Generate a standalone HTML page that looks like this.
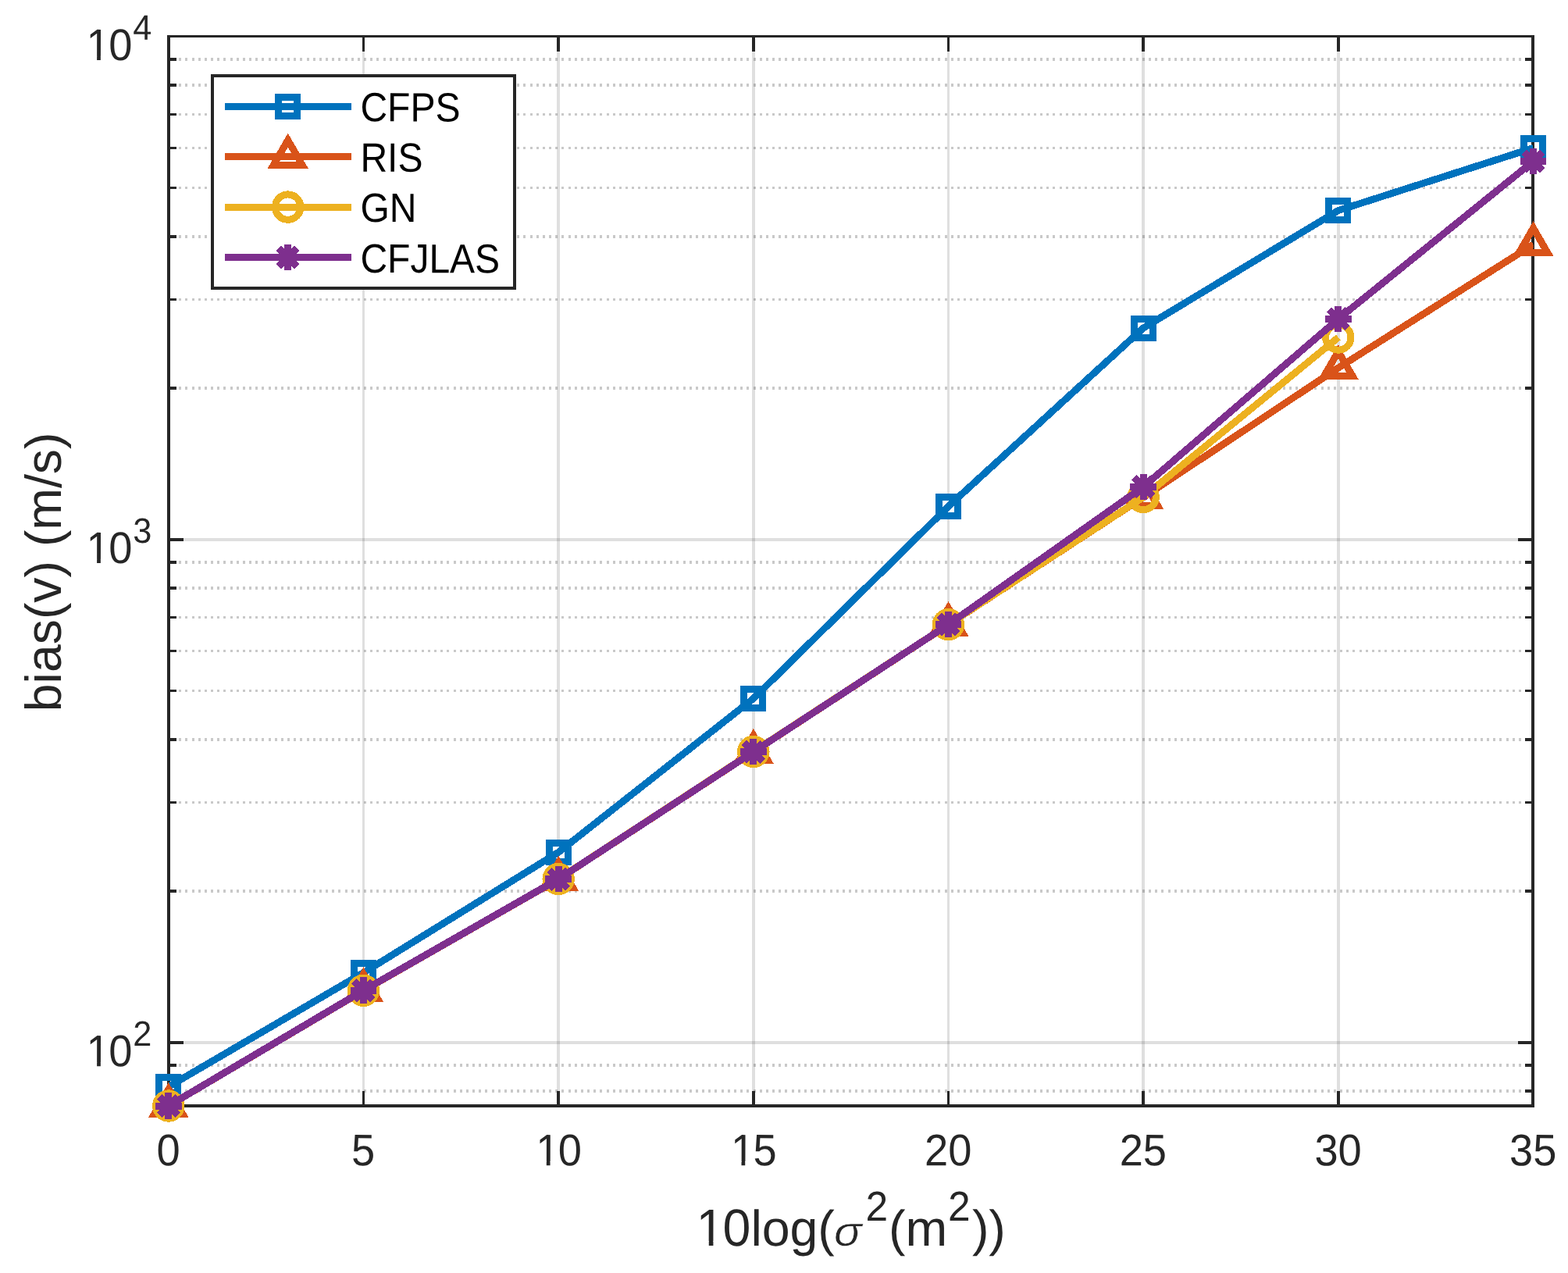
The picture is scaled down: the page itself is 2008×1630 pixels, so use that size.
<!DOCTYPE html>
<html lang="en"><head><meta charset="utf-8"><title>bias(v) versus noise power</title>
<style>html,body{margin:0;padding:0;background:#fff;}body{width:2008px;height:1630px;overflow:hidden;}svg{display:block;}text{font-family:"Liberation Sans",sans-serif;}</style>
</head><body>
<svg width="2008" height="1630" viewBox="0 0 2008 1630">
<rect x="0" y="0" width="2008" height="1630" fill="#fff"/>
<defs><clipPath id="ax"><rect x="215.78" y="46.7" width="1747.76" height="1369.3"/></clipPath></defs>
<g shape-rendering="crispEdges"><line x1="465.46" y1="46.7" x2="465.46" y2="1416" stroke="#262626" stroke-opacity="0.15" stroke-width="3.5"/><line x1="715.14" y1="46.7" x2="715.14" y2="1416" stroke="#262626" stroke-opacity="0.15" stroke-width="3.5"/><line x1="964.82" y1="46.7" x2="964.82" y2="1416" stroke="#262626" stroke-opacity="0.15" stroke-width="3.5"/><line x1="1214.5" y1="46.7" x2="1214.5" y2="1416" stroke="#262626" stroke-opacity="0.15" stroke-width="3.5"/><line x1="1464.18" y1="46.7" x2="1464.18" y2="1416" stroke="#262626" stroke-opacity="0.15" stroke-width="3.5"/><line x1="1713.86" y1="46.7" x2="1713.86" y2="1416" stroke="#262626" stroke-opacity="0.15" stroke-width="3.5"/><line x1="216" y1="1334.76" x2="1963" y2="1334.76" stroke="#262626" stroke-opacity="0.15" stroke-width="3.5"/><line x1="216" y1="690.75" x2="1963" y2="690.75" stroke="#262626" stroke-opacity="0.15" stroke-width="3.5"/><line x1="216" y1="1397.17" x2="1963" y2="1397.17" stroke="#262626" stroke-opacity="0.25" stroke-width="3.5" stroke-dasharray="3 5.17" stroke-dashoffset="-5.03"/><line x1="216" y1="1364.23" x2="1963" y2="1364.23" stroke="#262626" stroke-opacity="0.25" stroke-width="3.5" stroke-dasharray="3 5.17" stroke-dashoffset="-5.03"/><line x1="216" y1="1140.89" x2="1963" y2="1140.89" stroke="#262626" stroke-opacity="0.25" stroke-width="3.5" stroke-dasharray="3 5.17" stroke-dashoffset="-5.03"/><line x1="216" y1="1027.49" x2="1963" y2="1027.49" stroke="#262626" stroke-opacity="0.25" stroke-width="3.5" stroke-dasharray="3 5.17" stroke-dashoffset="-5.03"/><line x1="216" y1="947.03" x2="1963" y2="947.03" stroke="#262626" stroke-opacity="0.25" stroke-width="3.5" stroke-dasharray="3 5.17" stroke-dashoffset="-5.03"/><line x1="216" y1="884.62" x2="1963" y2="884.62" stroke="#262626" stroke-opacity="0.25" stroke-width="3.5" stroke-dasharray="3 5.17" stroke-dashoffset="-5.03"/><line x1="216" y1="833.62" x2="1963" y2="833.62" stroke="#262626" stroke-opacity="0.25" stroke-width="3.5" stroke-dasharray="3 5.17" stroke-dashoffset="-5.03"/><line x1="216" y1="790.51" x2="1963" y2="790.51" stroke="#262626" stroke-opacity="0.25" stroke-width="3.5" stroke-dasharray="3 5.17" stroke-dashoffset="-5.03"/><line x1="216" y1="753.16" x2="1963" y2="753.16" stroke="#262626" stroke-opacity="0.25" stroke-width="3.5" stroke-dasharray="3 5.17" stroke-dashoffset="-5.03"/><line x1="216" y1="720.22" x2="1963" y2="720.22" stroke="#262626" stroke-opacity="0.25" stroke-width="3.5" stroke-dasharray="3 5.17" stroke-dashoffset="-5.03"/><line x1="216" y1="496.88" x2="1963" y2="496.88" stroke="#262626" stroke-opacity="0.25" stroke-width="3.5" stroke-dasharray="3 5.17" stroke-dashoffset="-5.03"/><line x1="216" y1="383.48" x2="1963" y2="383.48" stroke="#262626" stroke-opacity="0.25" stroke-width="3.5" stroke-dasharray="3 5.17" stroke-dashoffset="-5.03"/><line x1="216" y1="303.02" x2="1963" y2="303.02" stroke="#262626" stroke-opacity="0.25" stroke-width="3.5" stroke-dasharray="3 5.17" stroke-dashoffset="-5.03"/><line x1="216" y1="240.61" x2="1963" y2="240.61" stroke="#262626" stroke-opacity="0.25" stroke-width="3.5" stroke-dasharray="3 5.17" stroke-dashoffset="-5.03"/><line x1="216" y1="189.61" x2="1963" y2="189.61" stroke="#262626" stroke-opacity="0.25" stroke-width="3.5" stroke-dasharray="3 5.17" stroke-dashoffset="-5.03"/><line x1="216" y1="146.5" x2="1963" y2="146.5" stroke="#262626" stroke-opacity="0.25" stroke-width="3.5" stroke-dasharray="3 5.17" stroke-dashoffset="-5.03"/><line x1="216" y1="109.15" x2="1963" y2="109.15" stroke="#262626" stroke-opacity="0.25" stroke-width="3.5" stroke-dasharray="3 5.17" stroke-dashoffset="-5.03"/><line x1="216" y1="76.21" x2="1963" y2="76.21" stroke="#262626" stroke-opacity="0.25" stroke-width="3.5" stroke-dasharray="3 5.17" stroke-dashoffset="-5.03"/></g>
<g><rect x="453.46" y="1233.5" width="24" height="24" fill="#fff"/><rect x="703.14" y="1079.3" width="24" height="24" fill="#fff"/><rect x="952.82" y="882.5" width="24" height="24" fill="#fff"/><rect x="1202.5" y="636.4" width="24" height="24" fill="#fff"/><rect x="1452.18" y="408" width="24" height="24" fill="#fff"/><rect x="1701.86" y="257.5" width="24" height="24" fill="#fff"/></g>
<g shape-rendering="crispEdges"><line x1="214.25" y1="46.7" x2="1964.75" y2="46.7" stroke="#262626" stroke-width="3.5"/><line x1="214.25" y1="1416" x2="1964.75" y2="1416" stroke="#262626" stroke-width="3.5"/><line x1="216" y1="44.95" x2="216" y2="1417.75" stroke="#262626" stroke-width="3.5"/><line x1="1963" y1="44.95" x2="1963" y2="1417.75" stroke="#262626" stroke-width="3.5"/><line x1="465.46" y1="1397" x2="465.46" y2="1416" stroke="#262626" stroke-width="3.5"/><line x1="465.46" y1="46.7" x2="465.46" y2="65.7" stroke="#262626" stroke-width="3.5"/><line x1="715.14" y1="1397" x2="715.14" y2="1416" stroke="#262626" stroke-width="3.5"/><line x1="715.14" y1="46.7" x2="715.14" y2="65.7" stroke="#262626" stroke-width="3.5"/><line x1="964.82" y1="1397" x2="964.82" y2="1416" stroke="#262626" stroke-width="3.5"/><line x1="964.82" y1="46.7" x2="964.82" y2="65.7" stroke="#262626" stroke-width="3.5"/><line x1="1214.5" y1="1397" x2="1214.5" y2="1416" stroke="#262626" stroke-width="3.5"/><line x1="1214.5" y1="46.7" x2="1214.5" y2="65.7" stroke="#262626" stroke-width="3.5"/><line x1="1464.18" y1="1397" x2="1464.18" y2="1416" stroke="#262626" stroke-width="3.5"/><line x1="1464.18" y1="46.7" x2="1464.18" y2="65.7" stroke="#262626" stroke-width="3.5"/><line x1="1713.86" y1="1397" x2="1713.86" y2="1416" stroke="#262626" stroke-width="3.5"/><line x1="1713.86" y1="46.7" x2="1713.86" y2="65.7" stroke="#262626" stroke-width="3.5"/><line x1="216" y1="1334.76" x2="235" y2="1334.76" stroke="#262626" stroke-width="3.5"/><line x1="1944" y1="1334.76" x2="1963" y2="1334.76" stroke="#262626" stroke-width="3.5"/><line x1="216" y1="690.75" x2="235" y2="690.75" stroke="#262626" stroke-width="3.5"/><line x1="1944" y1="690.75" x2="1963" y2="690.75" stroke="#262626" stroke-width="3.5"/><line x1="216" y1="1397.17" x2="226" y2="1397.17" stroke="#262626" stroke-width="3.5"/><line x1="1953" y1="1397.17" x2="1963" y2="1397.17" stroke="#262626" stroke-width="3.5"/><line x1="216" y1="1364.23" x2="226" y2="1364.23" stroke="#262626" stroke-width="3.5"/><line x1="1953" y1="1364.23" x2="1963" y2="1364.23" stroke="#262626" stroke-width="3.5"/><line x1="216" y1="1140.89" x2="226" y2="1140.89" stroke="#262626" stroke-width="3.5"/><line x1="1953" y1="1140.89" x2="1963" y2="1140.89" stroke="#262626" stroke-width="3.5"/><line x1="216" y1="1027.49" x2="226" y2="1027.49" stroke="#262626" stroke-width="3.5"/><line x1="1953" y1="1027.49" x2="1963" y2="1027.49" stroke="#262626" stroke-width="3.5"/><line x1="216" y1="947.03" x2="226" y2="947.03" stroke="#262626" stroke-width="3.5"/><line x1="1953" y1="947.03" x2="1963" y2="947.03" stroke="#262626" stroke-width="3.5"/><line x1="216" y1="884.62" x2="226" y2="884.62" stroke="#262626" stroke-width="3.5"/><line x1="1953" y1="884.62" x2="1963" y2="884.62" stroke="#262626" stroke-width="3.5"/><line x1="216" y1="833.62" x2="226" y2="833.62" stroke="#262626" stroke-width="3.5"/><line x1="1953" y1="833.62" x2="1963" y2="833.62" stroke="#262626" stroke-width="3.5"/><line x1="216" y1="790.51" x2="226" y2="790.51" stroke="#262626" stroke-width="3.5"/><line x1="1953" y1="790.51" x2="1963" y2="790.51" stroke="#262626" stroke-width="3.5"/><line x1="216" y1="753.16" x2="226" y2="753.16" stroke="#262626" stroke-width="3.5"/><line x1="1953" y1="753.16" x2="1963" y2="753.16" stroke="#262626" stroke-width="3.5"/><line x1="216" y1="720.22" x2="226" y2="720.22" stroke="#262626" stroke-width="3.5"/><line x1="1953" y1="720.22" x2="1963" y2="720.22" stroke="#262626" stroke-width="3.5"/><line x1="216" y1="496.88" x2="226" y2="496.88" stroke="#262626" stroke-width="3.5"/><line x1="1953" y1="496.88" x2="1963" y2="496.88" stroke="#262626" stroke-width="3.5"/><line x1="216" y1="383.48" x2="226" y2="383.48" stroke="#262626" stroke-width="3.5"/><line x1="1953" y1="383.48" x2="1963" y2="383.48" stroke="#262626" stroke-width="3.5"/><line x1="216" y1="303.02" x2="226" y2="303.02" stroke="#262626" stroke-width="3.5"/><line x1="1953" y1="303.02" x2="1963" y2="303.02" stroke="#262626" stroke-width="3.5"/><line x1="216" y1="240.61" x2="226" y2="240.61" stroke="#262626" stroke-width="3.5"/><line x1="1953" y1="240.61" x2="1963" y2="240.61" stroke="#262626" stroke-width="3.5"/><line x1="216" y1="189.61" x2="226" y2="189.61" stroke="#262626" stroke-width="3.5"/><line x1="1953" y1="189.61" x2="1963" y2="189.61" stroke="#262626" stroke-width="3.5"/><line x1="216" y1="146.5" x2="226" y2="146.5" stroke="#262626" stroke-width="3.5"/><line x1="1953" y1="146.5" x2="1963" y2="146.5" stroke="#262626" stroke-width="3.5"/><line x1="216" y1="109.15" x2="226" y2="109.15" stroke="#262626" stroke-width="3.5"/><line x1="1953" y1="109.15" x2="1963" y2="109.15" stroke="#262626" stroke-width="3.5"/><line x1="216" y1="76.21" x2="226" y2="76.21" stroke="#262626" stroke-width="3.5"/><line x1="1953" y1="76.21" x2="1963" y2="76.21" stroke="#262626" stroke-width="3.5"/></g>
<g shape-rendering="crispEdges">
<polyline points="215.78,1391.5 465.46,1245.5 715.14,1091.3 964.82,894.5 1214.5,648.4 1464.18,420 1713.86,269.5 1963.54,189.5" fill="none" stroke="#0072BD" stroke-width="9" stroke-linejoin="round" stroke-linecap="butt" clip-path="url(#ax)"/>
<rect x="203.78" y="1379.5" width="24" height="24" fill="none" stroke="#0072BD" stroke-width="9"/>
<rect x="453.46" y="1233.5" width="24" height="24" fill="none" stroke="#0072BD" stroke-width="9"/>
<rect x="703.14" y="1079.3" width="24" height="24" fill="none" stroke="#0072BD" stroke-width="9"/>
<rect x="952.82" y="882.5" width="24" height="24" fill="none" stroke="#0072BD" stroke-width="9"/>
<rect x="1202.5" y="636.4" width="24" height="24" fill="none" stroke="#0072BD" stroke-width="9"/>
<rect x="1452.18" y="408" width="24" height="24" fill="none" stroke="#0072BD" stroke-width="9"/>
<rect x="1701.86" y="257.5" width="24" height="24" fill="none" stroke="#0072BD" stroke-width="9"/>
<rect x="1951.54" y="177.5" width="24" height="24" fill="none" stroke="#0072BD" stroke-width="9"/>
</g>
<g shape-rendering="crispEdges">
<polyline points="215.78,1416 465.46,1268.4 715.14,1125.7 964.82,962.8 1214.5,799.8 1464.18,636.8 1713.86,471 1963.54,313" fill="none" stroke="#D95319" stroke-width="9" stroke-linejoin="round" stroke-linecap="butt" clip-path="url(#ax)"/>
<path d="M215.78 1395L233.98 1426.5L197.58 1426.5Z" fill="none" stroke="#D95319" stroke-width="9" stroke-linejoin="miter" stroke-miterlimit="10"/>
<path d="M465.46 1247.4L483.66 1278.9L447.26 1278.9Z" fill="none" stroke="#D95319" stroke-width="9" stroke-linejoin="miter" stroke-miterlimit="10"/>
<path d="M715.14 1104.7L733.34 1136.2L696.94 1136.2Z" fill="none" stroke="#D95319" stroke-width="9" stroke-linejoin="miter" stroke-miterlimit="10"/>
<path d="M964.82 941.8L983.02 973.3L946.62 973.3Z" fill="none" stroke="#D95319" stroke-width="9" stroke-linejoin="miter" stroke-miterlimit="10"/>
<path d="M1214.5 778.8L1232.7 810.3L1196.3 810.3Z" fill="none" stroke="#D95319" stroke-width="9" stroke-linejoin="miter" stroke-miterlimit="10"/>
<path d="M1464.18 615.8L1482.38 647.3L1445.98 647.3Z" fill="none" stroke="#D95319" stroke-width="9" stroke-linejoin="miter" stroke-miterlimit="10"/>
<path d="M1713.86 450L1732.06 481.5L1695.66 481.5Z" fill="none" stroke="#D95319" stroke-width="9" stroke-linejoin="miter" stroke-miterlimit="10"/>
<path d="M1963.54 292L1981.74 323.5L1945.34 323.5Z" fill="none" stroke="#D95319" stroke-width="9" stroke-linejoin="miter" stroke-miterlimit="10"/>
</g>
<g shape-rendering="crispEdges">
<polyline points="215.78,1416 465.46,1268.2 715.14,1125.5 964.82,962.4 1214.5,799.7 1464.18,636.5 1713.86,432" fill="none" stroke="#EDB120" stroke-width="9" stroke-linejoin="round" stroke-linecap="butt" clip-path="url(#ax)"/>
<circle cx="215.78" cy="1416" r="16.2" fill="none" stroke="#EDB120" stroke-width="9"/>
<circle cx="465.46" cy="1268.2" r="16.2" fill="none" stroke="#EDB120" stroke-width="9"/>
<circle cx="715.14" cy="1125.5" r="16.2" fill="none" stroke="#EDB120" stroke-width="9"/>
<circle cx="964.82" cy="962.4" r="16.2" fill="none" stroke="#EDB120" stroke-width="9"/>
<circle cx="1214.5" cy="799.7" r="16.2" fill="none" stroke="#EDB120" stroke-width="9"/>
<circle cx="1464.18" cy="636.5" r="16.2" fill="none" stroke="#EDB120" stroke-width="9"/>
<circle cx="1713.86" cy="432" r="16.2" fill="none" stroke="#EDB120" stroke-width="9"/>
</g>
<g shape-rendering="crispEdges">
<polyline points="215.78,1416 465.46,1268.2 715.14,1125.6 964.82,962.7 1214.5,799.7 1464.18,623.3 1713.86,408.4 1963.54,206.5" fill="none" stroke="#7E2F8E" stroke-width="9" stroke-linejoin="round" stroke-linecap="butt" clip-path="url(#ax)"/>
<path d="M199.03 1416H232.53M215.78 1399.25V1432.75M203.94 1404.16L227.62 1427.84M203.94 1427.84L227.62 1404.16" fill="none" stroke="#7E2F8E" stroke-width="9"/>
<path d="M448.71 1268.2H482.21M465.46 1251.45V1284.95M453.62 1256.36L477.3 1280.04M453.62 1280.04L477.3 1256.36" fill="none" stroke="#7E2F8E" stroke-width="9"/>
<path d="M698.39 1125.6H731.89M715.14 1108.85V1142.35M703.3 1113.76L726.98 1137.44M703.3 1137.44L726.98 1113.76" fill="none" stroke="#7E2F8E" stroke-width="9"/>
<path d="M948.07 962.7H981.57M964.82 945.95V979.45M952.98 950.86L976.66 974.54M952.98 974.54L976.66 950.86" fill="none" stroke="#7E2F8E" stroke-width="9"/>
<path d="M1197.75 799.7H1231.25M1214.5 782.95V816.45M1202.66 787.86L1226.34 811.54M1202.66 811.54L1226.34 787.86" fill="none" stroke="#7E2F8E" stroke-width="9"/>
<path d="M1447.43 623.3H1480.93M1464.18 606.55V640.05M1452.34 611.46L1476.02 635.14M1452.34 635.14L1476.02 611.46" fill="none" stroke="#7E2F8E" stroke-width="9"/>
<path d="M1697.11 408.4H1730.61M1713.86 391.65V425.15M1702.02 396.56L1725.7 420.24M1702.02 420.24L1725.7 396.56" fill="none" stroke="#7E2F8E" stroke-width="9"/>
<path d="M1946.79 206.5H1980.29M1963.54 189.75V223.25M1951.7 194.66L1975.38 218.34M1951.7 218.34L1975.38 194.66" fill="none" stroke="#7E2F8E" stroke-width="9"/>
</g>
<g shape-rendering="crispEdges">
<rect x="272" y="97" width="387" height="272" fill="#fff" stroke="#262626" stroke-width="3.5" shape-rendering="crispEdges"/>
<rect x="288" y="132" width="162" height="9" fill="#0072BD" shape-rendering="crispEdges"/>
<rect x="356.7" y="124.5" width="24" height="24" fill="none" stroke="#0072BD" stroke-width="9"/>
<text transform="translate(461.4 155.3) rotate(0.1) scale(0.988 1.0750)" font-size="48.6" fill="#000">CFPS</text>
<rect x="288" y="196" width="162" height="9" fill="#D95319" shape-rendering="crispEdges"/>
<path d="M368.7 179.5L386.9 211L350.5 211Z" fill="none" stroke="#D95319" stroke-width="9" stroke-linejoin="miter" stroke-miterlimit="10"/>
<text transform="translate(461.4 219.7) rotate(0.1) scale(0.988 1.0750)" font-size="48.6" fill="#000">RIS</text>
<rect x="288" y="261" width="162" height="9" fill="#EDB120" shape-rendering="crispEdges"/>
<circle cx="368.7" cy="265.1" r="16.2" fill="none" stroke="#EDB120" stroke-width="9"/>
<text transform="translate(461.4 284) rotate(0.1) scale(0.988 1.0750)" font-size="48.6" fill="#000">GN</text>
<rect x="288" y="325" width="162" height="9" fill="#7E2F8E" shape-rendering="crispEdges"/>
<path d="M351.95 329.5H385.45M368.7 312.75V346.25M356.86 317.66L380.54 341.34M356.86 341.34L380.54 317.66" fill="none" stroke="#7E2F8E" stroke-width="9"/>
<text transform="translate(461.4 349) rotate(0.1) scale(0.988 1.0750)" font-size="48.6" fill="#000">CFJLAS</text>
</g>
<g fill="#262626">
<text transform="translate(200.41 1492.2) rotate(0.1) scale(1 1.0500)" font-size="54.2" x="0">0</text><text transform="translate(450.09 1492.2) rotate(0.1) scale(1 1.0500)" font-size="54.2" x="0">5</text><text transform="translate(684.7 1492.2) rotate(0.1) scale(1 1.0500)" font-size="54.2" x="1.53 30.14">10</text><text transform="translate(934.38 1492.2) rotate(0.1) scale(1 1.0500)" font-size="54.2" x="1.53 30.14">15</text><text transform="translate(1184.06 1492.2) rotate(0.1) scale(1 1.0500)" font-size="54.2" x="0 30.14">20</text><text transform="translate(1433.74 1492.2) rotate(0.1) scale(1 1.0500)" font-size="54.2" x="0 30.14">25</text><text transform="translate(1683.42 1492.2) rotate(0.1) scale(1 1.0500)" font-size="54.2" x="0 30.14">30</text><text transform="translate(1933.1 1492.2) rotate(0.1) scale(1 1.0500)" font-size="54.2" x="0 30.14">35</text><text transform="translate(109 76.9) rotate(0.1) scale(1 1.0500)" font-size="54.2" x="1.53 30.14">10</text><text transform="translate(170.3 50.8) rotate(0.1) scale(1 1.0405)" font-size="43.3" x="0">4</text><text transform="translate(109 721) rotate(0.1) scale(1 1.0500)" font-size="54.2" x="1.53 30.14">10</text><text transform="translate(170.3 694.9) rotate(0.1) scale(1 1.0405)" font-size="43.3" x="0">3</text><text transform="translate(109 1365.2) rotate(0.1) scale(1 1.0500)" font-size="54.2" x="1.53 30.14">10</text><text transform="translate(170.3 1339.1) rotate(0.1) scale(1 1.0405)" font-size="43.3" x="0">2</text>
</g>
<g fill="#262626">
<text transform="translate(78 911.2) rotate(-90) scale(1 1.0000)" font-size="64.4">bias(v) (m/s)</text><text transform="translate(889.8 1595) rotate(0.1) scale(1 1.0405)" font-size="64.4" x="1.82 35.82">10</text><text transform="translate(961.4 1595) rotate(0.1) scale(1 1.0000)" font-size="64.4">log(</text><text transform="translate(1068.0 1595) scale(1.15 1)" font-family="'DejaVu Sans','Liberation Sans',sans-serif" font-style="italic" font-size="51.4" stroke="#fff" stroke-width="0.55">σ</text><text transform="translate(1108.5 1563) rotate(0.1) scale(1 1.0405)" font-size="51.5" x="0">2</text><text transform="translate(1138 1595) rotate(0.1) scale(1 1.0000)" font-size="64.4">(m</text><text transform="translate(1214.1 1563) rotate(0.1) scale(1 1.0405)" font-size="51.5" x="0">2</text><text transform="translate(1244.9 1595) rotate(0.1) scale(1 1.0000)" font-size="64.4">))</text>
</g>
<g><rect x="689.41" y="1486.95" width="10.4" height="6.75" fill="#fff"/><rect x="704.55" y="1486.95" width="10.03" height="6.75" fill="#fff"/><rect x="939.09" y="1486.95" width="10.4" height="6.75" fill="#fff"/><rect x="954.23" y="1486.95" width="10.03" height="6.75" fill="#fff"/><rect x="113.71" y="71.65" width="10.4" height="6.75" fill="#fff"/><rect x="128.85" y="71.65" width="10.03" height="6.75" fill="#fff"/><rect x="113.71" y="715.75" width="10.4" height="6.75" fill="#fff"/><rect x="128.85" y="715.75" width="10.03" height="6.75" fill="#fff"/><rect x="113.71" y="1359.95" width="10.4" height="6.75" fill="#fff"/><rect x="128.85" y="1359.95" width="10.03" height="6.75" fill="#fff"/><rect x="895.4" y="1588.99" width="12.37" height="7.51" fill="#fff"/><rect x="913.41" y="1588.99" width="11.92" height="7.51" fill="#fff"/></g>
</svg></body></html>
